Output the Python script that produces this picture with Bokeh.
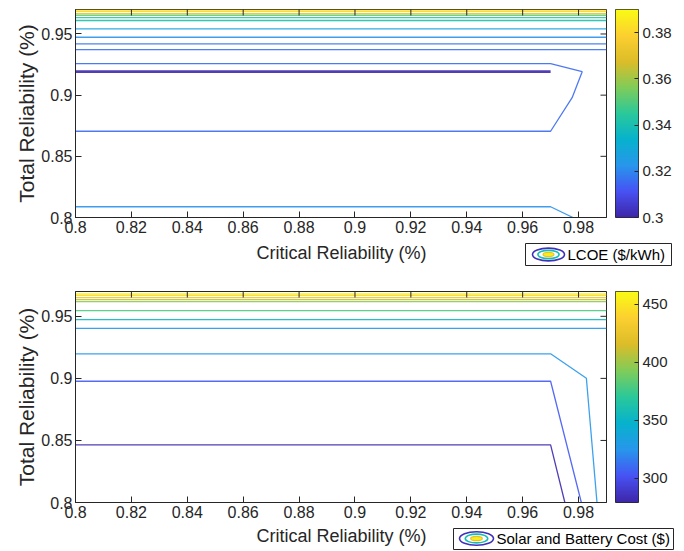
import numpy as np
from bokeh.plotting import figure
from bokeh.models import (Range1d, FixedTicker, CustomJSTickFormatter, LinearColorMapper, ColumnDataSource)
from bokeh.transform import linear_cmap
from bokeh.layouts import column, row
from bokeh.embed import file_html
from bokeh.resources import INLINE

# ---------------- data ----------------
x_ticks = [0.8, 0.82, 0.84, 0.86, 0.88, 0.9, 0.92, 0.94, 0.96, 0.98]
y_ticks = [0.8, 0.85, 0.9, 0.95]
x_lim = (0.8, 0.99)
y_lim = (0.8, 0.97)
x_label = "Critical Reliability (%)"
y_label = "Total Reliability (%)"

# Top panel: LCOE ($/kWh) contour lines
lcoe_levels = [0.3855, 0.379, 0.372, 0.354, 0.345, 0.3405, 0.327, 0.3216, 0.317, 0.3162, 0.3153, 0.3008, 0.3216]
lcoe_xs = [
    [0.8, 0.99], [0.8, 0.99], [0.8, 0.99], [0.8, 0.99], [0.8, 0.99], [0.8, 0.99],
    [0.8, 0.99], [0.8, 0.99], [0.8, 0.99], [0.8, 0.99],
    [0.8, 0.97, 0.9813, 0.9777, 0.97, 0.8],
    [0.8, 0.97],
    [0.8, 0.97, 0.978],
]
lcoe_ys = [
    [0.9695, 0.9695], [0.9685, 0.9685], [0.9667, 0.9667], [0.9653, 0.9653], [0.9634, 0.9634], [0.961, 0.961],
    [0.9542, 0.9542], [0.9473, 0.9473], [0.9419, 0.9419], [0.9372, 0.9372],
    [0.9257, 0.9257, 0.9192, 0.8979, 0.8705, 0.8705],
    [0.9192, 0.9192],
    [0.8088, 0.8088, 0.8],
]
lcoe_widths = [1.3] * 11 + [2.6, 1.3]
lcoe_range = (0.3, 0.39)
lcoe_cticks = [0.3, 0.32, 0.34, 0.36, 0.38]
lcoe_legend = "LCOE ($/kWh)"

# Bottom panel: Solar and Battery Cost ($) contour lines
cost_levels = [456, 443, 425, 410, 397, 379, 352, 324.5, 325, 305, 281]
cost_xs = [
    [0.8, 0.99], [0.8, 0.99], [0.8, 0.99], [0.8, 0.99], [0.8, 0.99], [0.8, 0.99], [0.8, 0.99], [0.8, 0.99],
    [0.8, 0.97, 0.9828, 0.9866],
    [0.8, 0.97, 0.981],
    [0.8, 0.97, 0.9751],
]
cost_ys = [
    [0.968, 0.968], [0.9668, 0.9668], [0.9651, 0.9651], [0.9635, 0.9635], [0.9619, 0.9619],
    [0.9546, 0.9546], [0.9473, 0.9473], [0.9403, 0.9403],
    [0.9198, 0.9198, 0.9001, 0.8],
    [0.8977, 0.8977, 0.8],
    [0.8464, 0.8464, 0.8],
]
cost_widths = [1.3] * 11
cost_range = (279, 461)
cost_cticks = [300, 350, 400, 450]
cost_legend = "Solar and Battery Cost ($)"

# ---------------- style ----------------
FONT = "Liberation Sans"
AX = "#262626"
_stops = np.array([
    (0.2422, 0.1504, 0.6603), (0.2810, 0.3228, 0.9579), (0.1540, 0.5902, 0.9218),
    (0.0265, 0.6998, 0.8056), (0.1664, 0.7861, 0.6043), (0.5044, 0.7993, 0.3480),
    (0.8634, 0.7406, 0.1596), (0.9892, 0.8136, 0.1885), (0.9769, 0.9839, 0.0805),
])
_pos = np.linspace(0, 1, len(_stops))


def parula(n=256):
    out = []
    for ti in np.linspace(0, 1, n):
        r, g, b = (np.interp(ti, _pos, _stops[:, k]) for k in range(3))
        out.append("#%02x%02x%02x" % (int(round(r * 255)), int(round(g * 255)), int(round(b * 255))))
    return out


PAL = parula()
FMT = "return String(Math.round(tick*1000)/1000);"


def style_axis(ax, ticks, label_size):
    ax.ticker = FixedTicker(ticks=ticks)
    ax.formatter = CustomJSTickFormatter(code=FMT)
    ax.major_tick_in = 6
    ax.major_tick_out = 0
    ax.minor_tick_line_color = None
    ax.axis_line_color = AX
    ax.major_tick_line_color = AX
    ax.major_label_text_font = FONT
    ax.major_label_text_font_size = "16px"
    ax.major_label_text_color = AX
    ax.axis_label_text_font = FONT
    ax.axis_label_text_font_size = label_size
    ax.axis_label_text_font_style = "normal"
    ax.axis_label_text_color = AX
    ax.major_label_standoff = 3


def make_main(levels, xs, ys, widths, crange, height, top_b, bottom_b):
    p = figure(width=607, height=height, x_range=Range1d(*x_lim), y_range=Range1d(*y_lim),
               output_backend="svg", toolbar_location=None,
               min_border_left=75, min_border_right=1, min_border_top=top_b, min_border_bottom=bottom_b)
    p.xgrid.visible = False
    p.ygrid.visible = False
    p.outline_line_color = AX
    p.outline_line_width = 1
    src = ColumnDataSource(dict(xs=xs, ys=ys, level=levels, w=widths))
    p.multi_line(xs="xs", ys="ys", line_width="w", source=src, line_alpha=0.9,
                 line_color=linear_cmap("level", PAL, crange[0], crange[1]))
    # inward ticks on the top and right edges (half of each dash is clipped by the frame)
    p.scatter(x=x_ticks, y=[y_lim[1]] * len(x_ticks), marker="dash", size=12, angle=np.pi / 2,
              line_color=AX, line_width=1)
    p.scatter(x=[x_lim[1]] * len(y_ticks), y=y_ticks, marker="dash", size=12,
              line_color=AX, line_width=1)
    style_axis(p.xaxis[0], x_ticks, "18px")
    style_axis(p.yaxis[0], y_ticks, "21px")
    p.yaxis.axis_label = y_label
    p.yaxis.axis_label_standoff = 0
    return p


def make_cbar(crange, cticks, height, top_b, bottom_b):
    c = figure(width=77, height=height, x_range=Range1d(0, 1), y_range=Range1d(*crange),
               output_backend="svg", toolbar_location=None, x_axis_location=None, y_axis_location="right",
               min_border_left=8, min_border_right=46, min_border_top=top_b, min_border_bottom=bottom_b)
    c.xgrid.visible = False
    c.ygrid.visible = False
    mapper = LinearColorMapper(palette=PAL, low=crange[0], high=crange[1])
    grad = np.linspace(crange[0], crange[1], 256).reshape(-1, 1)
    c.image(image=[grad], x=0, y=crange[0], dw=1, dh=crange[1] - crange[0], color_mapper=mapper)
    c.outline_line_color = AX
    ax = c.yaxis[0]
    ax.ticker = FixedTicker(ticks=cticks)
    ax.formatter = CustomJSTickFormatter(code=FMT)
    ax.major_tick_in = 4
    ax.major_tick_out = 0
    ax.minor_tick_line_color = None
    ax.axis_line_color = None
    ax.major_tick_line_color = AX
    ax.major_label_text_font = FONT
    ax.major_label_text_font_size = "15px"
    ax.major_label_text_color = AX
    ax.major_label_standoff = 4
    return c


def make_strip(height, label_y, box, ell_c, ell_w, legend_text):
    s = figure(width=684, height=height, x_range=Range1d(0, 684), y_range=Range1d(height, 0),
               output_backend="svg", toolbar_location=None, x_axis_type=None, y_axis_type=None,
               min_border=0)
    s.xgrid.visible = False
    s.ygrid.visible = False
    s.outline_line_color = None
    s.text(x=[341], y=[label_y], text=[x_label], text_font={"value": FONT}, text_font_size="18px",
           text_align="center", text_baseline="middle", text_color=AX)
    x0, y0, x1, y1 = box
    s.quad(left=[x0], right=[x1], top=[y0], bottom=[y1], fill_color="white", line_color=AX, line_width=1)
    cx, cy = ell_c
    s.ellipse(x=[cx], y=[cy], width=ell_w, height=ell_w * 0.4, fill_color="white", line_color=PAL[8], line_width=1.6)
    s.ellipse(x=[cx], y=[cy], width=ell_w * 0.66, height=ell_w * 0.26, fill_color=None, line_color=PAL[110], line_width=1.6)
    s.ellipse(x=[cx], y=[cy], width=ell_w * 0.34, height=ell_w * 0.13, fill_color=PAL[245], line_color=PAL[200], line_width=1.2)
    s.text(x=[cx + ell_w / 2 + 3], y=[cy], text=[legend_text], text_font={"value": FONT}, text_font_size="15px",
           text_align="left", text_baseline="middle", text_color="black")
    return s


p1 = make_main(lcoe_levels, lcoe_xs, lcoe_ys, lcoe_widths, lcoe_range, 240, 9, 23)
c1 = make_cbar(lcoe_range, lcoe_cticks, 240, 9, 23)
s1 = make_strip(30, 12, (525, 3, 671, 25), (548, 14), 32, lcoe_legend)
p2 = make_main(cost_levels, cost_xs, cost_ys, cost_widths, cost_range, 254, 21, 22)
c2 = make_cbar(cost_range, cost_cticks, 254, 21, 22)
s2 = make_strip(27, 11, (453, 4, 673, 25), (476, 14), 34, cost_legend)

layout = column(row(p1, c1, spacing=0), s1, row(p2, c2, spacing=0), s2, spacing=0)
open("out.html", "w").write(file_html(layout, INLINE))
